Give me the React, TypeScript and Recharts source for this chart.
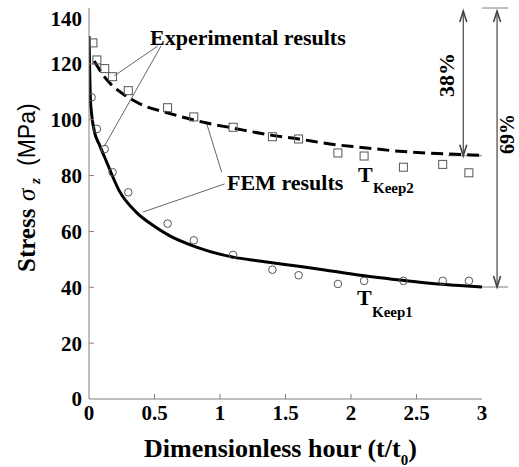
import { ComposedChart, Line, Scatter, XAxis, YAxis, ReferenceLine } from "recharts";

const SERIF = "'Liberation Serif', 'Times New Roman', serif";
const SANS = "'Liberation Sans', Arial, sans-serif";
const AXIS = "#808080";

const X_TICKS = [0, 0.5, 1, 1.5, 2, 2.5, 3];
const Y_TICKS = [0, 20, 40, 60, 80, 100, 120, 140];

// experimental results, T_Keep2 (squares)
const keep2ExpX = [0.03, 0.06, 0.12, 0.18, 0.3, 0.6, 0.8, 1.1, 1.4, 1.6, 1.9, 2.1, 2.4, 2.7, 2.9];
const keep2ExpY = [127.5, 121.4, 118.3, 115.4, 110.4, 104.3, 101, 97.3, 93.9, 93.1, 88.1, 87, 83, 84, 81];

// experimental results, T_Keep1 (circles)
const keep1ExpX = [0.02, 0.06, 0.12, 0.18, 0.3, 0.6, 0.8, 1.1, 1.4, 1.6, 1.9, 2.1, 2.4, 2.7, 2.9];
const keep1ExpY = [108, 96.7, 89.5, 81.2, 74, 62.8, 56.8, 51.6, 46.3, 44.3, 41.2, 42.3, 42.3, 42.3, 42.3];

// FEM results, T_Keep2 (dashed)
const keep2FemX = [0.04, 0.1, 0.155, 0.28, 0.42, 0.59, 0.75, 0.9, 1.1, 1.41, 1.6, 1.84, 2.1, 2.32, 2.6, 2.8, 3];
const keep2FemY = [121, 116.5, 113.3, 108.6, 105, 102.6, 100.5, 98.8, 97, 94.3, 93.1, 91.3, 90, 88.9, 88, 87.6, 87.2];

// FEM results, T_Keep1 (solid)
const keep1FemX = [0, 0.005, 0.01, 0.02, 0.04, 0.08, 0.13, 0.23, 0.36, 0.49, 0.61, 0.82, 1.1, 1.3, 1.6, 1.8, 2.07, 2.3, 2.58, 2.8, 3];
const keep1FemY = [130, 118, 108, 102, 96, 91, 85.4, 74.6, 66.9, 62.1, 58.6, 54.4, 50.8, 49.4, 47.5, 46.2, 44.3, 43, 41.5, 40.7, 40.1];

const zip = (xs: number[], ys: number[]) => xs.map((x, i) => ({ x, y: ys[i] }));

const keep2Exp = zip(keep2ExpX, keep2ExpY);
const keep1Exp = zip(keep1ExpX, keep1ExpY);
const keep2Fem = zip(keep2FemX, keep2FemY);
const keep1Fem = zip(keep1FemX, keep1FemY);

/* ---------------- ticks (inward tick marks) ---------------- */

const LeftTick = (props: any) => {
  const { x, y, payload } = props;
  const ax = x + 7;
  const dy = payload.value === 140 ? 11 : 0;
  return (
    <g>
      {payload.value !== 0 && payload.value !== 140 && (
        <line x1={ax} y1={y} x2={ax + 5} y2={y} stroke={AXIS} />
      )}
      <text x={x} y={y + dy} dy="0.355em" textAnchor="end" fontFamily={SERIF} fontWeight="bold" fontSize={21} fill="#000">
        {payload.value}
      </text>
    </g>
  );
};

const BottomTick = (props: any) => {
  const { x, y, payload } = props;
  const ay = y - 6;
  return (
    <g>
      {payload.value !== 0 && payload.value !== 3 && (
        <line x1={x} y1={ay} x2={x} y2={ay - 5} stroke={AXIS} />
      )}
      <text x={x} y={y} dy="0.71em" textAnchor="middle" fontFamily={SERIF} fontWeight="bold" fontSize={21} fill="#000">
        {payload.value}
      </text>
    </g>
  );
};

const TopTick = (props: any) => {
  const { x, y, payload } = props;
  if (payload.value === 0 || payload.value === 3) return <g />;
  return <line x1={x} y1={y} x2={x} y2={y + 5} stroke={AXIS} />;
};

const RightTick = (props: any) => {
  const { x, y, payload } = props;
  if (payload.value === 0 || payload.value === 140) return <g />;
  return <line x1={x} y1={y} x2={x - 5} y2={y} stroke={AXIS} />;
};

/* ---------------- marks ---------------- */

const Square = (props: any) => (
  <rect x={props.cx - 4} y={props.cy - 4} width={8} height={8} fill="none" stroke="#555" strokeWidth={1} />
);
const Circle = (props: any) => (
  <circle cx={props.cx} cy={props.cy} r={3.8} fill="none" stroke="#555" strokeWidth={1} />
);

const Arrow = (props: any) => {
  const { x1, y1, x2, y2 } = props;
  return (
    <g stroke="#444" fill="none" strokeWidth={1.2}>
      <line x1={x1} y1={y1} x2={x2} y2={y2} />
      <path d={`M${x1 - 3.5},${y1 + 11} L${x1},${y1} L${x1 + 3.5},${y1 + 11}`} strokeWidth={1.6} />
      <path d={`M${x2 - 3.5},${y2 - 11} L${x2},${y2} L${x2 + 3.5},${y2 - 11}`} strokeWidth={1.6} />
    </g>
  );
};

export default function App() {
  return (
    <div style={{ position: "absolute", left: 0, top: 0, width: 519, height: 467, background: "#fff" }}>
      <ComposedChart width={519} height={467} margin={{ top: 8, right: 37, bottom: 38, left: 0 }}>
        <XAxis
          xAxisId={0}
          dataKey="x"
          type="number"
          domain={[0, 3]}
          ticks={X_TICKS}
          interval={0}
          height={30}
          stroke={AXIS}
          tickLine={false}
          tickSize={0}
          tickMargin={6}
          tick={<BottomTick />}
          allowDataOverflow
        />
        <XAxis
          xAxisId="top"
          orientation="top"
          dataKey="x"
          type="number"
          domain={[0, 3]}
          ticks={X_TICKS}
          interval={0}
          height={0}
          stroke={AXIS}
          tickLine={false}
          tickSize={0}
          tickMargin={0}
          tick={<TopTick />}
          allowDataOverflow
        />
        <YAxis
          yAxisId={0}
          type="number"
          domain={[0, 140]}
          ticks={Y_TICKS}
          interval={0}
          width={89}
          stroke={AXIS}
          tickLine={false}
          tickSize={0}
          tickMargin={7}
          tick={<LeftTick />}
          allowDataOverflow
        />
        <YAxis
          yAxisId="right"
          orientation="right"
          type="number"
          domain={[0, 140]}
          ticks={Y_TICKS}
          interval={0}
          width={0}
          stroke={AXIS}
          tickLine={false}
          tickSize={0}
          tickMargin={0}
          tick={<RightTick />}
          allowDataOverflow
        />

        {/* frame extensions and dimension lines */}
        <ReferenceLine segment={[{ x: 3, y: 140 }, { x: 3.2, y: 140 }]} stroke={AXIS} ifOverflow="visible" />
        <ReferenceLine segment={[{ x: 3, y: 40.1 }, { x: 3.2, y: 40.1 }]} stroke={AXIS} ifOverflow="visible" />
        <ReferenceLine segment={[{ x: 2.74, y: 87.1 }, { x: 3, y: 87.1 }]} stroke={AXIS} ifOverflow="visible" />
        <ReferenceLine segment={[{ x: 2.857, y: 138.9 }, { x: 2.857, y: 87.1 }]} ifOverflow="visible" shape={<Arrow />} />
        <ReferenceLine segment={[{ x: 3.115, y: 138.9 }, { x: 3.115, y: 40.1 }]} ifOverflow="visible" shape={<Arrow />} />

        {/* callout lines */}
        <ReferenceLine segment={[{ x: 0.525, y: 126.4 }, { x: 0.193, y: 115.7 }]} stroke="#666" ifOverflow="visible" />
        <ReferenceLine segment={[{ x: 0.55, y: 126.4 }, { x: 0.117, y: 90.5 }]} stroke="#666" ifOverflow="visible" />
        <ReferenceLine segment={[{ x: 1.013, y: 81.2 }, { x: 0.899, y: 98.5 }]} stroke="#666" ifOverflow="visible" />
        <ReferenceLine segment={[{ x: 1.034, y: 77 }, { x: 0.41, y: 66.9 }]} stroke="#666" ifOverflow="visible" />

        <Line
          data={keep1Fem}
          dataKey="y"
          type="monotone"
          stroke="#000"
          strokeWidth={3}
          dot={false}
          isAnimationActive={false}
        />
        <Line
          data={keep2Fem}
          dataKey="y"
          type="monotone"
          stroke="#000"
          strokeWidth={3}
          strokeDasharray="12 6"
          dot={false}
          isAnimationActive={false}
        />
        <Scatter data={keep2Exp} dataKey="y" shape={<Square />} isAnimationActive={false} />
        <Scatter data={keep1Exp} dataKey="y" shape={<Circle />} isAnimationActive={false} />
      </ComposedChart>

      <svg width={519} height={467} style={{ position: "absolute", left: 0, top: 0, pointerEvents: "none" }}>
        <g fontFamily={SERIF} fontWeight="bold" fill="#000">
          <text x={150} y={45} fontSize={22}>Experimental results</text>
          <text x={227} y={190} fontSize={22}>FEM results</text>
          <text x={358} y={182} fontSize={22}>T</text>
          <text x={373} y={193} fontSize={15}>Keep2</text>
          <text x={357} y={305} fontSize={22}>T</text>
          <text x={372} y={317} fontSize={15}>Keep1</text>
          <text transform="translate(454,75) rotate(-90)" textAnchor="middle" fontSize={22}>38%</text>
          <text transform="translate(514,134) rotate(-90)" textAnchor="middle" fontSize={20}>69%</text>
          <text x={144} y={457} fontSize={26}>
            Dimensionless hour (t/t<tspan dy={8} fontSize={15}>0</tspan>
            <tspan dy={-8}>)</tspan>
          </text>
          <text transform="translate(35,272) rotate(-90)" fontSize={25}>
            <tspan x={0}>Stress</tspan>
            <tspan x={71} fontStyle="italic" fontWeight="normal">σ</tspan>
            <tspan x={88} dy={5} fontSize={15} fontStyle="italic">z</tspan>
            <tspan x={106} dy={-5} fontFamily={SANS} fontWeight="normal" fontSize={23}>(MPa)</tspan>
          </text>
        </g>
      </svg>
    </div>
  );
}
